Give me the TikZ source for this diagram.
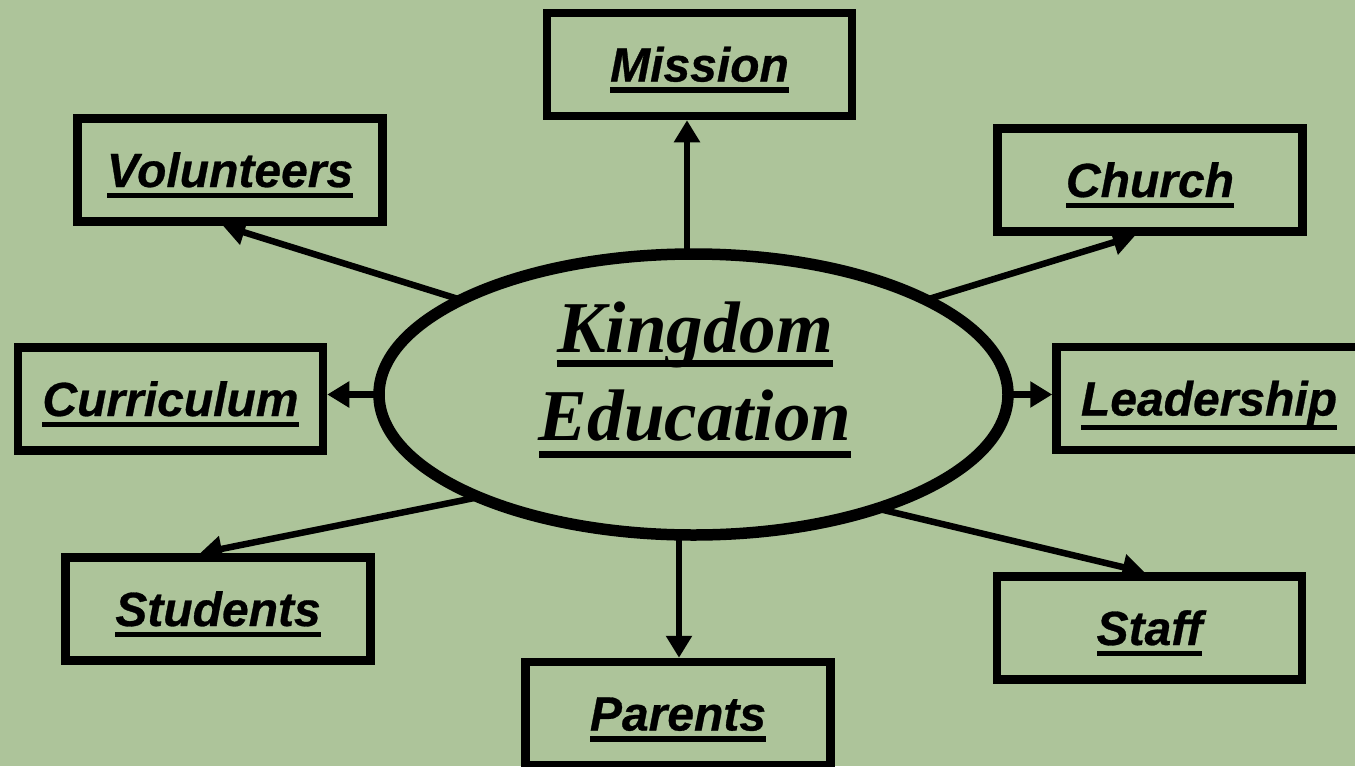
\documentclass[tikz,border=0pt]{standalone}
\usepackage{fontspec}
\setmainfont{Liberation Serif}
\newfontfamily\boxfont{Liberation Sans}[BoldItalicFeatures={FakeBold=0.6}]
\usetikzlibrary{arrows.meta,shapes.geometric,calc}
\definecolor{bg}{RGB}{173,196,154}
\newsavebox\ulbox
\newcommand\ulx[3]{\sbox\ulbox{#1}\rlap{\usebox\ulbox}\raisebox{-#2}{\rule{\wd\ulbox}{#3}}}
\pgfdeclarelayer{back}
\pgfsetlayers{back,main}
\begin{document}
\begin{tikzpicture}[x=1pt,y=-1pt,
  bx/.style={draw,line width=8.5pt,minimum width=305pt,minimum height=103pt,inner sep=0pt,
    text height=38pt,text depth=4pt,font=\boxfont\bfseries\itshape\fontsize{48pt}{56pt}\selectfont},
  ttl/.style={anchor=base,inner sep=0pt,font=\bfseries\itshape\fontsize{73pt}{88pt}\selectfont},
  arr/.style={line width=6.5pt,-{Triangle[length=22pt 0,width=25pt 0]}}]
\useasboundingbox (0,0) rectangle (1355,766);
% ellipse and texts
\node[ellipse,draw,line width=11.5pt,fill=bg,minimum width=629pt,minimum height=281pt,inner sep=0pt] (ell) at (693.5,394.5) {};
\node[ttl] (k1) at (695,352) {\ulx{Kingdom}{15pt}{7pt}};
\node[ttl] (k2) at (695,440) {\ulx{Education}{18pt}{7pt}};
% boxes
\node[bx] (mis) at (699.5,64.5) {\ulx{Mission}{11pt}{5.5pt}};
\node[bx] (vol) at (230,170) {\ulx{Volunteers}{11pt}{5.5pt}};
\node[bx] (chu) at (1150,180) {\ulx{Church}{11pt}{5.5pt}};
\node[bx] (cur) at (170.5,399) {\ulx{Curriculum}{11pt}{5.5pt}};
\node[bx] (lea) at (1209,398.5) {\ulx{Leadership}{14.5pt}{5.5pt}};
\node[bx] (stu) at (218,609) {\ulx{Students}{11pt}{5.5pt}};
\node[bx] (sta) at (1149.5,628) {\ulx{Staff}{11pt}{5.5pt}};
\node[bx] (par) at (678,713.5) {\ulx{Parents}{11pt}{5.5pt}};
% arrow end points
\coordinate (mtip) at ($(mis.south)+(-12.5,0)$);
\coordinate (vtip) at ($(vol.south)+(-7,0)$);
\coordinate (ctip) at ($(chu.south)+(-15,0)$);
\coordinate (stip) at ($(stu.north)+(-18,0)$);
\coordinate (ftip) at ($(sta.north)+(-5,0)$);
\coordinate (ptip) at ($(par.north)+(1,0)$);
\begin{pgfonlayer}{back}
\fill[bg] (0,0) rectangle (1355,766);
\draw[arr,shorten <=-8pt] (ell.north -| mtip) -- (mtip);
\draw[arr,shorten <=-8pt] (ell.158) -- (vtip);
\draw[arr,shorten <=-8pt] (ell.22) -- (ctip);
\draw[arr,shorten <=-8pt] (ell.west) -- (ell.west -| cur.east);
\draw[arr,shorten <=-8pt] (ell.east) -- (ell.east -| lea.west);
\draw[arr,shorten <=-8pt] (ell.205) -- (stip);
\draw[arr,shorten <=-8pt] (ell.329) -- (ftip);
\draw[arr,shorten <=-8pt] (ell.south -| ptip) -- (ptip);
\end{pgfonlayer}
\end{tikzpicture}
\end{document}
